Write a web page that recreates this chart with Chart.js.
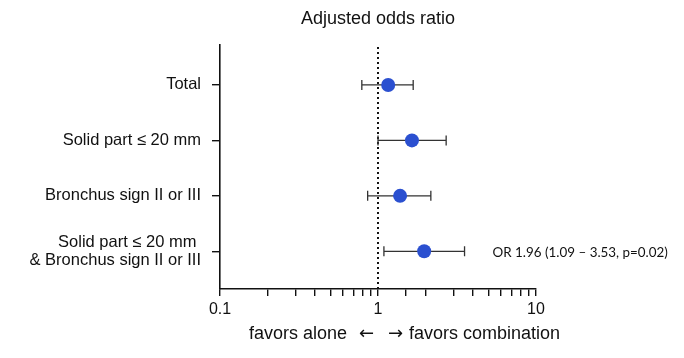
<!DOCTYPE html>
<html><head><meta charset="utf-8">
<script src="https://cdn.jsdelivr.net/npm/chart.js@4/dist/chart.umd.min.js"></script>
<style>html,body{margin:0;padding:0;background:#fff}#wrap{width:684px;height:358px}</style>
</head><body><div id="wrap"><canvas id="c" width="684" height="358"></canvas></div>
<script>
const categories = ["Total", "Solid part ≤ 20 mm", "Bronchus sign II or III", ["Solid part ≤ 20 mm ", "& Bronchus sign II or III"]];
const oddsRatio = [1.16, 1.64, 1.38, 1.96];
const ciLower   = [0.79, 1.00, 0.86, 1.09];
const ciUpper   = [1.67, 2.70, 2.16, 3.53];
const xTickLabels = [0.1, 1, 10];
const annotationText = "OR 1.96 (1.09 – 3.53, p=0.02)";
const titleText = "Adjusted odds ratio";
const xLeftText = "favors alone";
const xRightText = "favors combination";

const points = oddsRatio.map((v, i) => ({x: v, y: i}));
const FONT = "'Liberation Sans', Arial, sans-serif";

const forestPlugin = {
  id: 'forest',
  beforeDatasetsDraw(chart) {
    const {ctx, chartArea, scales: {x, y}} = chart;
    ctx.save();
    const x1 = x.getPixelForValue(1);
    ctx.strokeStyle = '#111';
    ctx.lineWidth = 2;
    ctx.setLineDash([2, 3]);
    ctx.beginPath();
    ctx.moveTo(x1, chartArea.top + 2);
    ctx.lineTo(x1, chartArea.bottom);
    ctx.stroke();
    ctx.setLineDash([]);
    ctx.strokeStyle = '#333';
    ctx.lineWidth = 1.3;
    for (let i = 0; i < oddsRatio.length; i++) {
      const py = y.getPixelForValue(i);
      const xl = x.getPixelForValue(ciLower[i]);
      const xu = x.getPixelForValue(ciUpper[i]);
      ctx.beginPath();
      ctx.moveTo(xl, py); ctx.lineTo(xu, py);
      ctx.moveTo(xl, py - 5); ctx.lineTo(xl, py + 5);
      ctx.moveTo(xu, py - 5); ctx.lineTo(xu, py + 5);
      ctx.stroke();
    }
    ctx.restore();
  },
  afterDraw(chart) {
    const {ctx, scales: {x, y}} = chart;
    ctx.save();
    ctx.fillStyle = '#111';
    const x1 = x.getPixelForValue(1);
    ctx.font = "18px " + FONT;
    ctx.textAlign = 'center';
    ctx.textBaseline = 'middle';
    ctx.fillText(titleText, x1, 19);
    // x axis title split around the null line
    ctx.font = "18px " + FONT;
    ctx.textAlign = 'right';
    ctx.fillText(xLeftText, x1 - 31, 334);
    ctx.textAlign = 'left';
    ctx.fillText(xRightText, x1 + 31, 334);
    ctx.font = "18px 'DejaVu Sans', sans-serif";
    ctx.textAlign = 'right';
    ctx.fillText('←', x1 - 4, 334);
    ctx.textAlign = 'left';
    ctx.fillText('→', x1 + 10, 334);
    // annotation
    const last = oddsRatio.length - 1;
    ctx.font = "13.4px Lato, 'Open Sans', sans-serif";
    ctx.textAlign = 'left';
    ctx.fillText(annotationText, x.getPixelForValue(ciUpper[last]) + 28, y.getPixelForValue(last) + 1);
    ctx.restore();
  }
};

new Chart(document.getElementById('c'), {
  type: 'scatter',
  data: {
    datasets: [{
      data: points,
      backgroundColor: '#2b50d0',
      borderWidth: 0,
      pointRadius: 7,
      pointHoverRadius: 7
    }]
  },
  options: {
    responsive: false,
    animation: false,
    events: [],
    layout: {padding: {left: 0, right: 148, top: 45, bottom: 0}},
    plugins: {legend: {display: false}, tooltip: {enabled: false}, title: {display: false}},
    scales: {
      x: {
        type: 'logarithmic',
        min: 0.1, max: 10,
        afterFit(s) { s.height = 69; },
        border: {color: '#111', width: 1.6},
        grid: {drawOnChartArea: false, drawTicks: true, tickLength: 7, color: '#111', lineWidth: 1.4},
        ticks: {
          autoSkip: false,
          maxRotation: 0,
          color: '#111',
          padding: 4,
          font: {family: FONT, size: 16},
          callback(v) { const r = Number(v.toPrecision(3)); return xTickLabels.includes(r) ? String(r) : ''; }
        }
      },
      y: {
        type: 'linear',
        reverse: true,
        min: -0.72, max: 3.68,
        afterFit(s) { s.width = 220; },
        afterBuildTicks(s) { s.ticks = categories.map((c, i) => ({value: i})); },
        border: {color: '#111', width: 1.6},
        grid: {drawOnChartArea: false, drawTicks: true, tickLength: 8, color: '#111', lineWidth: 1.4},
        ticks: {
          color: '#111',
          padding: 11,
          font: {family: FONT, size: 16.5, lineHeight: 1.1},
          callback(v) { return categories[v]; }
        }
      }
    }
  },
  plugins: [forestPlugin]
});
</script></body></html>
